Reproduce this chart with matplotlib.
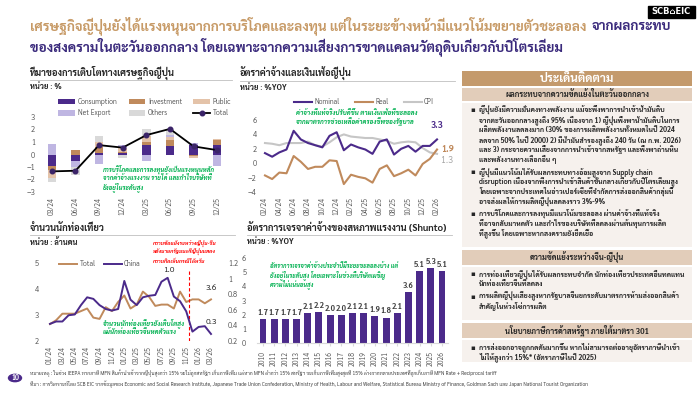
import matplotlib
matplotlib.use("Agg")
import matplotlib.pyplot as plt
from matplotlib import font_manager
from matplotlib.ft2font import FT2Font
from matplotlib.patches import Rectangle, Circle
from matplotlib.lines import Line2D
from matplotlib.ticker import FuncFormatter

# ---------------- data ----------------
gdp_quarters = ["03/24", "06/24", "09/24", "12/24", "03/25", "06/25", "09/25", "12/25"]
gdp_consumption = [-0.95, -0.5, 0.1, 0.15, 0.75, 0.65, 0.75, 0.75]
gdp_investment = [-0.3, 0.35, 0.5, 0.05, 0.25, 0.55, -0.15, 0.45]
gdp_public = [-0.6, 0.0, 0.4, 0.3, 0.5, 0.2, -0.1, 0.05]
gdp_net_export = [0.85, -0.5, -0.75, 0.3, -0.5, 0.15, 0.15, -0.9]
gdp_others = [-0.35, -0.6, 0.45, -0.25, 0.55, 0.5, 0.0, 0.0]
gdp_total = [-1.35, -1.3, 0.75, 0.55, 1.55, 2.05, 0.65, 0.35]

wage_months = ["02/24", "03/24", "04/24", "05/24", "06/24", "07/24", "08/24", "09/24",
               "10/24", "11/24", "12/24", "01/25", "02/25", "03/25", "04/25", "05/25",
               "06/25", "07/25", "08/25", "09/25", "10/25", "11/25", "12/25", "01/26", "02/26"]
wage_nominal = [1.4, 0.9, 1.5, 1.9, 4.5, 3.3, 2.8, 2.5, 2.2, 3.8, 4.3, 1.8, 2.6,
                2.2, 1.9, 1.3, 3.0, 3.3, 1.2, 2.0, 2.4, 1.6, 2.4, 2.4, 3.3]
wage_real = [-1.7, -2.2, -1.3, -1.4, 1.0, 0.2, -0.8, -0.5, -0.5, 0.4, 0.3, -2.9, -1.6,
             -1.9, -2.1, -2.7, -0.8, -0.3, -1.8, -1.4, -0.9, -1.7, -0.1, 0.6, 1.9]
wage_cpi = [2.8, 2.7, 2.5, 2.8, 2.8, 2.8, 3.0, 2.5, 2.3, 2.9, 3.6, 4.0, 3.7,
            3.6, 3.5, 3.5, 3.3, 3.1, 2.7, 2.9, 3.0, 2.9, 2.1, 1.5, 1.3]

tour_months = ["01/24", "02/24", "03/24", "04/24", "05/24", "06/24", "07/24", "08/24", "09/24",
               "10/24", "11/24", "12/24", "01/25", "02/25", "03/25", "04/25", "05/25", "06/25",
               "07/25", "08/25", "09/25", "10/25", "11/25", "12/25", "01/26", "02/26", "03/26"]
tour_total = [2.65, 2.8, 3.05, 3.05, 3.05, 3.15, 3.25, 2.9, 2.85, 3.3, 3.15, 3.5, 3.75,
              3.25, 3.4, 3.9, 3.7, 3.35, 3.4, 3.4, 3.25, 3.9, 3.5, 3.6, 3.6, 3.45, 3.6]
tour_china = [0.42, 0.45, 0.45, 0.53, 0.54, 0.66, 0.76, 0.74, 0.66, 0.61, 0.59, 0.61, 0.97,
              0.73, 0.66, 0.76, 0.78, 0.79, 0.96, 1.01, 0.77, 0.71, 0.58, 0.32, 0.38, 0.39, 0.29]

shunto_years = [str(y) for y in range(2010, 2027)]
shunto_rate = [1.7, 1.7, 1.7, 1.7, 2.1, 2.2, 2.0, 2.0, 2.1, 2.1, 1.9, 1.8, 2.1, 3.6, 5.1, 5.3, 5.1]

# ---------------- style ----------------
PURPLE = "#4B2A8A"
TAN = "#C08A5C"
PEACH = "#E4C3A9"
LAVENDER = "#BFB6E2"
LGREY = "#D9D9D9"
CPI_GREY = "#C6C6C6"
GREEN = "#00B050"
GOLD = "#C79A66"
NAVY = "#3A2A7C"
TXT = "#262626"
TICK = "#595959"


def find_thai_font():
    fams = {}
    for f in font_manager.fontManager.ttflist:
        try:
            if 0x0E01 not in FT2Font(f.fname).get_charmap():
                continue
        except Exception:
            continue
        w = f.weight if isinstance(f.weight, int) else font_manager.weight_dict.get(f.weight, 400)
        fams.setdefault(f.name, set()).add(w)
    if not fams:
        return "DejaVu Sans"
    bold = [n for n, ws in fams.items() if max(ws) >= 600]
    pool = bold or list(fams)
    for pref in ["Noto Sans Thai", "Sarabun", "Loma", "Garuda", "Tlwg"]:
        for n in pool:
            if pref in n and "Looped" not in n:
                return n
    return pool[0]


THAI = find_thai_font()
FONTS = [THAI, "DejaVu Sans"]
plt.rcParams["font.family"] = FONTS

W, H = 700, 394
fig = plt.figure(figsize=(7, 3.94), dpi=100)
renderer = fig.canvas.get_renderer()


def fx(x):
    return x / W


def fy(y):
    return 1 - y / H


def box(x0, y0, x1, y1):
    return [x0 / W, 1 - y1 / H, (x1 - x0) / W, (y1 - y0) / H]


def put(x, y, s, size, width=None, **kw):
    kw.setdefault("va", "center")
    kw.setdefault("family", FONTS)
    t = fig.text(fx(x), fy(y), s, fontsize=size, **kw)
    if width:
        w = t.get_window_extent(renderer).width
        t.set_fontsize(size * width / w)
    return t


def note(x, y, lines, color, width, step=9):
    # first line sets the size, the rest follow it
    t = put(x, y, lines[0], 5, width=width, color=color, fontweight="bold", style="italic")
    for i, s in enumerate(lines[1:], 1):
        put(x, y + step * i, s, t.get_fontsize(), color=color, fontweight="bold", style="italic")


def style_axes(ax, size=5.5):
    for s in ax.spines.values():
        s.set_visible(False)
    ax.tick_params(length=0, labelsize=size, colors=TICK)
    ax.patch.set_alpha(0)


def chart_title(x, y, s, x1):
    put(x, y, s, 6.8, color=TXT, fontweight="bold")
    fig.add_artist(Line2D([fx(x), fx(x1)], [fy(y + 7), fy(y + 7)], color="#BFBFBF", lw=0.6))


# ---------------- header ----------------
fig.add_artist(Rectangle((fx(648), fy(18)), fx(47), 12 / H, color="black"))
put(671.5, 12, "SCB⌂EIC", 6, color="white", fontweight="bold", ha="center", family=["DejaVu Sans"])

t1 = put(30, 26, "เศรษฐกิจญี่ปุ่นยังได้แรงหนุนจากการบริโภคและลงทุน แต่ในระยะข้างหน้ามีแนวโน้มขยายตัวชะลอลง",
         11, width=558, color=GOLD, fontweight="bold")
tsize = t1.get_fontsize()
w1 = t1.get_window_extent(renderer).width
put(30 + w1 + 5, 26, "จากผลกระทบ", tsize, color=NAVY, fontweight="bold")
put(30, 47, "ของสงครามในตะวันออกกลาง โดยเฉพาะจากความเสี่ยงการขาดแคลนวัตถุดิบเกี่ยวกับปิโตรเลียม",
    tsize, color=NAVY, fontweight="bold")

# ---------------- chart 1: GDP contributions ----------------
chart_title(30, 73, "ที่มาของการเติบโตทางเศรษฐกิจญี่ปุ่น", 232)
put(30, 87, "หน่วย : %", 5.5, color=TXT, fontweight="bold")

ax1 = fig.add_axes(box(40, 117, 229, 192))
style_axes(ax1)
x = range(len(gdp_quarters))
series = [(gdp_consumption, PURPLE, "Consumption"), (gdp_investment, TAN, "Investment"),
          (gdp_public, PEACH, "Public"), (gdp_net_export, LAVENDER, "Net Export"),
          (gdp_others, LGREY, "Others")]
pos = [0.0] * len(gdp_quarters)
neg = [0.0] * len(gdp_quarters)
handles = {}
for vals, col, name in series:
    bottoms = [p if v >= 0 else n for v, p, n in zip(vals, pos, neg)]
    b = ax1.bar(x, vals, bottom=bottoms, width=0.36, color=col, label=name)
    handles[name] = b
    pos = [p + max(v, 0) for v, p in zip(vals, pos)]
    neg = [n + min(v, 0) for v, n in zip(vals, neg)]
tot, = ax1.plot(x, gdp_total, color="black", lw=1.3, marker="o", ms=3.3,
                mfc="#3B2468", mec="#3B2468", label="Total")
ax1.set_xlim(-0.5, len(gdp_quarters) - 0.5)
ax1.set_ylim(-3, 3)
ax1.set_yticks(range(-3, 4))
ax1.set_xticks(list(x))
ax1.set_xticklabels(gdp_quarters, rotation=90, fontsize=5)
order = ["Consumption", "Net Export", "Investment", "Others", "Public"]
leg_h = [handles[n] for n in order] + [tot]
leg_l = order + ["Total"]
ax1.legend(leg_h, leg_l, ncol=3, loc="upper left", bbox_to_anchor=(fx(52), fy(92)),
           bbox_transform=fig.transFigure, frameon=False, fontsize=5, handlelength=2.4,
           handleheight=0.8, columnspacing=1.6, labelspacing=0.45, handletextpad=0.4,
           labelcolor=TICK)
note(103, 169, ["การบริโภคและการลงทุนยังเป็นแรงหนุนหลัก",
                "จากค่าจ้างแรงงาน รายได้ และกำไรบริษัทที่",
                "ยังอยู่ในระดับสูง"], GREEN, 112)

# ---------------- chart 2: wages & inflation ----------------
chart_title(240, 74, "อัตราค่าจ้างและเงินเฟ้อญี่ปุ่น", 455)
put(240, 88, "หน่วย : %YOY", 5.5, color=TXT, fontweight="bold")

ax2 = fig.add_axes(box(261.4, 120, 440.6, 192))
style_axes(ax2)
xm = range(len(wage_months))
ax2.plot(xm, wage_cpi, color=CPI_GREY, lw=1.5, label="CPI", zorder=1)
ax2.plot(xm, wage_real, color=TAN, lw=1.5, label="Real", zorder=2)
ax2.plot(xm, wage_nominal, color=PURPLE, lw=1.5, label="Nominal", zorder=3)
ax2.set_xlim(-0.5, len(wage_months) - 0.5)
ax2.set_ylim(-4, 6)
ax2.set_yticks(range(-4, 7, 2))
ax2.set_xticks(list(xm)[::2])
ax2.set_xticklabels(wage_months[::2], rotation=90, fontsize=5)
h2, l2 = ax2.get_legend_handles_labels()
ax2.legend(h2[::-1], l2[::-1], ncol=3, loc="upper left", bbox_to_anchor=(fx(288), fy(92)),
           bbox_transform=fig.transFigure, frameon=False, fontsize=5, handlelength=2.6,
           columnspacing=2.2, handletextpad=0.3, labelcolor=TICK)
last = len(wage_months) - 1
ax2.annotate(f"{wage_nominal[-1]:.1f}", (last, wage_nominal[-1]), xytext=(0, 7),
             textcoords="offset points", ha="center", va="bottom", fontsize=6.5,
             fontweight="bold", color=PURPLE)
ax2.annotate(f"{wage_real[-1]:.1f}", (last, wage_real[-1]), xytext=(3, 0),
             textcoords="offset points", ha="left", va="center", fontsize=6.5,
             fontweight="bold", color=TAN)
ax2.annotate(f"{wage_cpi[-1]:.1f}", (last, wage_cpi[-1]), xytext=(3, -5),
             textcoords="offset points", ha="left", va="center", fontsize=6.5,
             color="#A6A6A6")
note(296, 113, ["ค่าจ้างที่แท้จริงปรับดีขึ้น ตามเงินเฟ้อที่ชะลอลง",
                "จากมาตรการช่วยเหลือค่าครองชีพของรัฐบาล"], GREEN, 122)

# ---------------- chart 3: tourists ----------------
chart_title(30, 228, "จำนวนนักท่องเที่ยว", 235)
put(30, 243, "หน่วย : ล้านคน", 5.5, color=TXT, fontweight="bold")

ax3 = fig.add_axes(box(46.9, 263, 214.1, 341))
style_axes(ax3)
ax3r = ax3.twinx()
style_axes(ax3r)
xt = range(len(tour_months))
l_tot, = ax3.plot(xt, tour_total, color=TAN, lw=1.4, label="Total")
l_chn, = ax3r.plot(xt, tour_china, color=PURPLE, lw=1.4, label="China")
ax3.set_xlim(-0.5, len(tour_months) - 0.5)
ax3.set_ylim(2, 5)
ax3.set_yticks(range(2, 6))
ax3r.set_ylim(0.2, 1.2)
ax3r.set_yticks([0.2, 0.4, 0.6, 0.8, 1.0, 1.2])
ax3r.yaxis.set_major_formatter(FuncFormatter(lambda v, p: f"{v:g}"))
ax3r.tick_params(axis="y", pad=10)
ax3.tick_params(axis="y", pad=6)
ax3.set_xticks(list(xt)[::2])
ax3.set_xticklabels(tour_months[::2], rotation=90, fontsize=5)
ax3.legend([l_tot, l_chn], ["Total", "China"], ncol=2, loc="upper left",
           bbox_to_anchor=(fx(53), fy(254)), bbox_transform=fig.transFigure, frameon=False,
           fontsize=5, handlelength=2.6, columnspacing=1.2, handletextpad=0.3, labelcolor=TICK)
ax3.vlines(tour_months.index("11/25") + 0.4, 2, 4.73, color="red", lw=0.8, ls=(0, (3, 2)))
pk = tour_china.index(max(tour_china))
ax3r.annotate(f"{tour_china[pk]:.1f}", (pk, tour_china[pk]), xytext=(1, 3),
              textcoords="offset points", ha="center", va="bottom", fontsize=6, color=TXT)
ax3.annotate(f"{tour_total[-1]:.1f}", (len(tour_months) - 1, tour_total[-1]), xytext=(0, 5),
             textcoords="offset points", ha="center", va="bottom", fontsize=6, color=TXT)
ax3r.annotate(f"{tour_china[-1]:.1f}", (len(tour_months) - 1, tour_china[-1]), xytext=(0, 6),
              textcoords="offset points", ha="center", va="bottom", fontsize=6, color=TXT)
note(153, 244, ["ความขัดแย้งระหว่างญี่ปุ่น-จีน",
                "หลังนายกรัฐมนตรีญี่ปุ่นแสดง",
                "ความคิดเห็นกรณีไต้หวัน"], "red", 64, step=8.7)
note(103, 323, ["จำนวนนักท่องเที่ยวยังเติบโตสูง", "แม้นักท่องเที่ยวจีนหดตัวแรง"], GREEN, 82)

# ---------------- chart 4: Shunto ----------------
chart_title(247, 228, "อัตราการเจรจาค่าจ้างของสหภาพแรงงาน (Shunto)", 452)
put(247, 242, "หน่วย : %YOY", 5.5, color=TXT, fontweight="bold")

ax4 = fig.add_axes(box(257.4, 258, 447.6, 343))
style_axes(ax4)
xs = range(len(shunto_years))
ax4.bar(xs, shunto_rate, width=0.62, color=PURPLE)
for i, v in zip(xs, shunto_rate):
    ax4.text(i, v + 0.15, f"{v:.1f}", ha="center", va="bottom", fontsize=5.5,
             fontweight="bold", color="#404040")
ax4.set_xlim(-0.5, len(shunto_years) - 0.5)
ax4.set_ylim(0, 6)
ax4.set_yticks(range(0, 7))
ax4.set_xticks(list(xs))
ax4.set_xticklabels(shunto_years, rotation=90, fontsize=5)
ax4.spines["bottom"].set_visible(True)
ax4.spines["bottom"].set_color(LGREY)
ax4.tick_params(axis="x", length=2, color=LGREY)
ax4.tick_params(axis="y", pad=8)
note(270, 266, ["อัตราการเจรจาค่าจ้างประจำปีมีระยะชะลอลงบ้าง แต่",
                "ยังอยู่ในระดับสูง โดยเฉพาะในช่วงที่บริษัทเผชิญ",
                "ความไม่แน่นอนสูง"], GREEN, 128, step=8.8)

# ---------------- right panel ----------------
PX0, PX1 = 462, 692
HEAD = "#C49A6C"
SUB = "#E2CDBA"
BODY = "#F6F1ED"


def panel_rect(y0, y1, col):
    fig.add_artist(Rectangle((fx(PX0), fy(y1)), (PX1 - PX0) / W, (y1 - y0) / H,
                             color=col, lw=0))


panel_rect(71, 86, HEAD)
put((PX0 + PX1) / 2, 78.5, "ประเด็นติดตาม", 8.5, color="white", fontweight="bold", ha="center")

sections = [
    ("ผลกระทบจากความขัดแย้งในตะวันออกกลาง", 88, 101, 103, 247, [
        ["ญี่ปุ่นยังมีความมั่นคงทางพลังงาน แม้จะพึ่งพาการนำเข้าน้ำมันดิบ",
         "จากตะวันออกกลางสูงถึง 95% เนื่องจาก 1) ญี่ปุ่นพึ่งพาน้ำมันดิบในการ",
         "ผลิตพลังงานลดลงมาก (30% ของการผลิตพลังงานทั้งหมดในปี 2024",
         "ลดจาก 50% ในปี 2000) 2) มีน้ำมันสำรองสูงถึง 240 วัน (ณ ก.พ. 2026)",
         "และ 3) กระจายความเสี่ยงจากการนำเข้าจากสหรัฐฯ และพึ่งพาถ่านหิน",
         "และพลังงานทางเลือกอื่น ๆ"],
        ["ญี่ปุ่นมีแนวโน้มได้รับผลกระทบทางอ้อมสูงจาก Supply chain",
         "disruption เนื่องจากพึ่งการนำเข้าสินค้าขั้นกลางเกี่ยวกับปิโตรเลียมสูง",
         "โดยเฉพาะจากประเทศในอ่าวเปอร์เซียที่จำกัดการส่งออกสินค้ากลุ่มนี้",
         "อาจส่งผลให้การผลิตญี่ปุ่นลดลงราว 3%-9%"],
        ["การบริโภคและการลงทุนมีแนวโน้มชะลอลง ผ่านค่าจ้างที่แท้จริง",
         "ที่อาจกลับมาหดตัว และกำไรของบริษัทที่ลดลงผ่านต้นทุนการผลิต",
         "ที่สูงขึ้น โดยเฉพาะหากสงครามยังยืดเยื้อ"],
    ]),
    ("ความขัดแย้งระหว่างจีน-ญี่ปุ่น", 250, 265, 267, 320, [
        ["การท่องเที่ยวญี่ปุ่นได้รับผลกระทบจำกัด นักท่องเที่ยวประเทศอื่นทดแทน",
         "นักท่องเที่ยวจีนที่ลดลง"],
        ["การผลิตญี่ปุ่นเสี่ยงสูงหากรัฐบาลจีนยกระดับมาตรการห้ามส่งออกสินค้า",
         "สำคัญในห่วงโซ่การผลิต"],
    ]),
    ("นโยบายภาษีการค้าสหรัฐฯ ภายใต้มาตรา 301", 323, 338, 340, 362, [
        ["การส่งออกอาจถูกกดดันมากขึ้น หากไม่สามารถต่ออายุอัตราภาษีนำเข้า",
         "ไม่ให้สูงกว่า 15%* (อัตราภาษีในปี 2025)"],
    ]),
]

for head, hy0, hy1, by0, by1, bullets in sections:
    panel_rect(hy0, hy1, SUB)
    panel_rect(by0, by1, BODY)
    put((PX0 + PX1) / 2, (hy0 + hy1) / 2, head, 5.6, color=TXT, fontweight="bold", ha="center")
    y = by0 + 7.5
    for lines in bullets:
        put(470, y, "▪", 5, color=TXT)
        for ln in lines:
            t = put(479, y, ln, 5.0, color=TXT, fontweight="bold")
            if t.get_window_extent(renderer).width > PX1 - 483:
                put(479, y, ln, 5.0, width=PX1 - 483, color=TXT, fontweight="bold")
                t.remove()
            y += 9.8
        y += 2.5

# ---------------- footer ----------------
fig.add_artist(Circle((fx(15), fy(378)), 6.5 / W, color=PURPLE, transform=fig.transFigure))
put(15, 378, "10", 5, color="white", fontweight="bold", ha="center")
put(30, 373, "หมายเหตุ : ในช่วง IEEPA หากภาษี MFN สินค้านำเข้าจากญี่ปุ่นสูงกว่า 15% จะไม่ถูกสหรัฐฯ เก็บภาษีเพิ่ม "
    "แต่หาก MFN ต่ำกว่า 15% สหรัฐฯ จะเก็บภาษีเพิ่มสูงสุดที่ 15% ต่างจากหลายประเทศที่ถูกเก็บภาษี MFN Rate + Reciprocal tariff",
    4.5, width=477, color="#404040")
put(30, 384, "ที่มา : การวิเคราะห์โดย SCB EIC จากข้อมูลของ Economic and Social Research Institute, "
    "Japanese Trade Union Confederation, Ministry of Health, Labour and Welfare, Statistical Bureau "
    "Ministry of Finance, Goldman Sach และ Japan National Tourist Organization",
    4.5, width=565, color="#404040")

fig.savefig("out.png", dpi=100)
